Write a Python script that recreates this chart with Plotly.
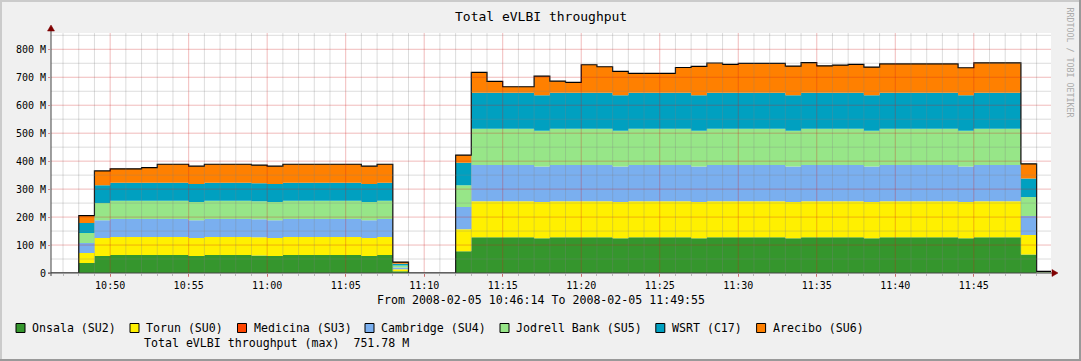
import pandas as pd
import numpy as np
import plotly.graph_objects as go

# ---------------- data (Mbit/s, one value per minute) ----------------
start_time = "2008-02-05 10:46:14"
end_time = "2008-02-05 11:49:55"
minute_starts = ["2008-02-05 10:46:14"] + [t.strftime("%Y-%m-%d %H:%M:%S") for t in
                 pd.date_range("2008-02-05 10:47", "2008-02-05 11:49", freq="min")]

series_names = ["Onsala (SU2)", "Torun (SU0)", "Medicina (SU3)", "Cambridge (SU4)",
                "Jodrell Bank (SU5)", "WSRT (C17)", "Arecibo (SU6)"]
series_colors = ["#35962D", "#FFF000", "#FF4500", "#7AAFEF", "#97E688", "#00A0C0", "#FF8000"]

onsala = [0, 0, 36, 60.9, 64.5, 64.5, 64.5, 64.5, 64.5, 61,
          64.5, 64.5, 64.5, 63, 61, 64.5, 64.5, 64.5, 64.5, 64.5,
          61, 64.5, 6.6, 0, 0, 0, 77.7, 127.5, 127.5, 127.5,
          127.5, 124, 127.5, 127.5, 127.5, 127.5, 124, 127.5, 127.5, 127.5,
          127.5, 124, 127.5, 127.5, 127.5, 127.5, 127.5, 124, 127.5, 127.5,
          127.5, 127.5, 124, 127.5, 127.5, 127.5, 127.5, 127.5, 124, 127.5,
          127.5, 127.5, 66, 1]
torun = [0, 0, 35.6, 64.4, 64.5, 64.5, 64.5, 64.5, 64.5, 64.5,
         64.5, 64.5, 64.5, 64.5, 64.5, 64.5, 64.5, 64.5, 64.5, 64.5,
         64.5, 64.5, 6.6, 0, 0, 0, 78.8, 129.5, 129.5, 129.5,
         129.5, 129.5, 129.5, 129.5, 129.5, 129.5, 129.5, 129.5, 129.5, 129.5,
         129.5, 129.5, 129.5, 129.5, 129.5, 129.5, 129.5, 129.5, 129.5, 129.5,
         129.5, 129.5, 129.5, 129.5, 129.5, 129.5, 129.5, 129.5, 129.5, 129.5,
         129.5, 129.5, 70, 1]
medicina = [0, 0, 0, 0, 0, 0, 0, 0, 0, 0,
            0, 0, 0, 0, 0, 0, 0, 0, 0, 0,
            0, 0, 0, 0, 0, 0, 0, 0, 0, 0,
            0, 0, 0, 0, 0, 0, 0, 0, 0, 0,
            0, 0, 0, 0, 0, 0, 0, 0, 0, 0,
            0, 0, 0, 0, 0, 0, 0, 0, 0, 0,
            0, 0, 0, 0]
cambridge = [0, 0, 35.8, 63.4, 64.5, 64.5, 64.5, 64.5, 64.5, 63.5,
             64.5, 64.5, 64.5, 64.5, 63.5, 64.5, 64.5, 64.5, 64.5, 64.5,
             63.5, 64.5, 6.6, 0, 0, 0, 79.5, 129.5, 129.5, 129.5,
             129.5, 127, 129.5, 129.5, 129.5, 129.5, 127, 129.5, 129.5, 129.5,
             129.5, 127, 129.5, 129.5, 129.5, 129.5, 129.5, 127, 129.5, 129.5,
             129.5, 129.5, 127, 129.5, 129.5, 129.5, 129.5, 129.5, 127, 129.5,
             129.5, 129.5, 68, 1]
jodrell = [0, 0, 35.8, 61.9, 64.5, 64.5, 64.5, 64.5, 64.5, 64.5,
           64.5, 64.5, 64.5, 64.5, 64.5, 64.5, 64.5, 64.5, 64.5, 64.5,
           64.5, 64.5, 6.6, 0, 0, 0, 78, 129, 129, 129,
           129, 127.8, 129, 129, 129, 129, 127.8, 129, 129, 129,
           129, 127.8, 129, 129, 129, 129, 129, 127.8, 129, 129,
           129, 129, 127.8, 129, 129, 129, 129, 129, 127.8, 129,
           129, 129, 68, 1]
wsrt = [0, 0, 35.8, 63.4, 64.5, 64.5, 64.5, 64.5, 64.5, 64.5,
        64.5, 64.5, 64.5, 64.5, 64.5, 64.5, 64.5, 64.5, 64.5, 64.5,
        64.5, 64.5, 6.6, 0, 0, 0, 80, 129.5, 129.5, 129.5,
        129.5, 127, 129.5, 129.5, 129.5, 129.5, 127, 129.5, 129.5, 129.5,
        129.5, 127, 129.5, 129.5, 129.5, 129.5, 129.5, 127, 129.5, 129.5,
        129.5, 129.5, 127, 129.5, 129.5, 129.5, 129.5, 129.5, 127, 129.5,
        129.5, 129.5, 66, 1]
arecibo = [0, 0, 26.5, 51, 50, 50, 54, 66.5, 66.5, 64,
           66.5, 66.5, 66.5, 64.5, 64, 66.5, 66.5, 66.5, 66.5, 66.5,
           64, 66.5, 6, 0, 0, 0, 27.5, 72.5, 40, 21,
           21, 68.7, 41, 37, 99.7, 92.6, 85.7, 69, 69, 69,
           90, 103.7, 106, 101, 104.8, 104.8, 104.8, 104.7, 107, 96,
           98.6, 101, 101.2, 103, 103, 103, 103, 103, 98.7, 106.78,
           106.78, 106.78, 52, 1]

y_tick_vals = [0, 100, 200, 300, 400, 500, 600, 700, 800]
y_tick_text = ["0", "100 M", "200 M", "300 M", "400 M", "500 M", "600 M", "700 M", "800 M"]
x_tick_vals = ["2008-02-05 10:50", "2008-02-05 10:55", "2008-02-05 11:00", "2008-02-05 11:05",
               "2008-02-05 11:10", "2008-02-05 11:15", "2008-02-05 11:20", "2008-02-05 11:25",
               "2008-02-05 11:30", "2008-02-05 11:35", "2008-02-05 11:40", "2008-02-05 11:45"]
x_tick_text = ["10:50", "10:55", "11:00", "11:05", "11:10", "11:15", "11:20", "11:25",
               "11:30", "11:35", "11:40", "11:45"]
title_text = "Total eVLBI throughput"
period_text = "From 2008-02-05 10:46:14 To 2008-02-05 11:49:55"
max_text = "Total eVLBI throughput (max)  751.78 M"
watermark_text = "RRDTOOL / TOBI OETIKER"

# ---------------- figure ----------------
all_series = [onsala, torun, medicina, cambridge, jodrell, wsrt, arecibo]
x_vals = minute_starts + [end_time]

W, H = 1081, 361
L, R, T, B = 51, 30, 33, 88
PW, PH = W - L - R, H - T - B
Y_TOP = 858.3


def px(xp):
    return (xp - L) / PW


def py(yp):
    return (H - B - yp) / PH


FONT = "DejaVu Sans Mono"
fig = go.Figure()
for name, col, vals in zip(series_names, series_colors, all_series):
    fig.add_trace(go.Scatter(
        x=x_vals, y=list(vals) + [vals[-1]], name=name, mode="lines",
        stackgroup="one", line=dict(width=0, shape="hv", color=col),
        fillcolor=col, showlegend=False, hoverinfo="skip"))

total = np.sum(np.array(all_series, dtype=float), axis=0)
fig.add_trace(go.Scatter(x=x_vals, y=list(total) + [total[-1]], mode="lines",
                         line=dict(color="#000000", width=1.2, shape="hv"),
                         showlegend=False, hoverinfo="skip"))

shapes = []
# grid lines on top of the data (as rrdtool does)
minor_col = "rgba(130,130,130,0.28)"
major_col = "rgba(210,30,30,0.30)"
for t in pd.date_range("2008-02-05 10:47", "2008-02-05 11:49", freq="min"):
    ts = t.strftime("%Y-%m-%d %H:%M")
    is_major = ts in x_tick_vals
    shapes.append(dict(type="line", xref="x", yref="paper", x0=ts, x1=ts, y0=0, y1=1,
                       line=dict(color=major_col if is_major else minor_col, width=1),
                       layer="above"))
for v in range(50, 851, 50):
    shapes.append(dict(type="line", xref="paper", yref="y", x0=0, x1=1, y0=v, y1=v,
                       line=dict(color=major_col if v % 100 == 0 else minor_col, width=1),
                       layer="above"))

# axis lines and arrows
axis_col = "#444444"
shapes.append(dict(type="line", xref="paper", yref="paper", x0=px(48), x1=px(1054),
                   y0=0, y1=0, line=dict(color=axis_col, width=1), layer="above"))
shapes.append(dict(type="line", xref="paper", yref="paper", x0=0, x1=0,
                   y0=py(276), y1=py(30), line=dict(color=axis_col, width=1), layer="above"))
arrow_col = "#7F0000"
shapes.append(dict(type="path", xref="paper", yref="paper",
                   path=f"M {px(1052)} {py(269.5)} L {px(1058)} {py(273)} L {px(1052)} {py(276.5)} Z",
                   fillcolor=arrow_col, line=dict(color=arrow_col, width=0.5), layer="above"))
shapes.append(dict(type="path", xref="paper", yref="paper",
                   path=f"M {px(47.5)} {py(31)} L {px(51)} {py(25)} L {px(54.5)} {py(31)} Z",
                   fillcolor=arrow_col, line=dict(color=arrow_col, width=0.5), layer="above"))

# frame (3D border)
shapes.append(dict(type="rect", xref="paper", yref="paper", x0=px(0), x1=px(W), y0=py(0), y1=py(2),
                   fillcolor="#CBCBCB", line=dict(width=0), layer="above"))
shapes.append(dict(type="rect", xref="paper", yref="paper", x0=px(0), x1=px(2), y0=py(0), y1=py(H),
                   fillcolor="#CBCBCB", line=dict(width=0), layer="above"))
shapes.append(dict(type="rect", xref="paper", yref="paper", x0=px(W - 2), x1=px(W), y0=py(0), y1=py(H),
                   fillcolor="#999999", line=dict(width=0), layer="above"))
shapes.append(dict(type="rect", xref="paper", yref="paper", x0=px(0), x1=px(W), y0=py(H - 2), y1=py(H),
                   fillcolor="#999999", line=dict(width=0), layer="above"))

annotations = []
# legend
legend_x = [16, 130, 237.5, 365, 500, 655.8, 756.6]
legend_y = 328
for lx, name, col in zip(legend_x, series_names, series_colors):
    shapes.append(dict(type="rect", xref="paper", yref="paper", x0=px(lx), x1=px(lx + 9),
                       y0=py(legend_y - 4.5), y1=py(legend_y + 4.5), fillcolor=col,
                       line=dict(color="#000000", width=1)))
    annotations.append(dict(text=name, xref="paper", yref="paper", x=px(lx + 14), y=py(legend_y),
                            xanchor="left", yanchor="middle", showarrow=False,
                            font=dict(family=FONT, size=11.6, color="#000000")))
annotations.append(dict(text=max_text, xref="paper", yref="paper", x=px(142), y=py(343),
                        xanchor="left", yanchor="middle", showarrow=False,
                        font=dict(family=FONT, size=11.6, color="#000000")))
annotations.append(dict(text=period_text, xref="paper", yref="paper", x=px(540.5), y=py(300),
                        xanchor="center", yanchor="middle", showarrow=False,
                        font=dict(family=FONT, size=11.6, color="#000000")))
annotations.append(dict(text=title_text, xref="paper", yref="paper", x=px(540.5), y=py(16),
                        xanchor="center", yanchor="middle", showarrow=False,
                        font=dict(family=FONT, size=13, color="#000000")))
annotations.append(dict(text=watermark_text, xref="paper", yref="paper", x=px(1069.5), y=py(62),
                        xanchor="center", yanchor="middle", showarrow=False, textangle=90,
                        font=dict(family=FONT, size=8.3, color="#AAAAAA")))

fig.update_layout(
    width=W, height=H, margin=dict(l=L, r=R, t=T, b=B, pad=0),
    paper_bgcolor="#F0F0F0", plot_bgcolor="#FFFFFF",
    showlegend=False, shapes=shapes, annotations=annotations,
    xaxis=dict(type="date", range=[start_time, end_time], showgrid=False, zeroline=False,
               showline=False, tickmode="array", tickvals=x_tick_vals, ticktext=x_tick_text,
               ticks="outside", ticklen=3, tickcolor="rgba(210,30,30,0.5)",
               tickfont=dict(family=FONT, size=10, color="#000000"),
               minor=dict(ticks="outside", ticklen=2, tickcolor="rgba(130,130,130,0.5)",
                          dtick=60000, showgrid=False)),
    yaxis=dict(range=[0, Y_TOP], showgrid=False, zeroline=False, showline=False,
               tickmode="array", tickvals=y_tick_vals, ticktext=y_tick_text,
               ticks="outside", ticklen=2, tickcolor="rgba(210,30,30,0.5)",
               tickfont=dict(family=FONT, size=10, color="#000000")),
)

fig.write_html("out.html", config={"displayModeBar": False},
               post_script="document.body.style.margin='0';document.body.style.overflow='hidden';")
